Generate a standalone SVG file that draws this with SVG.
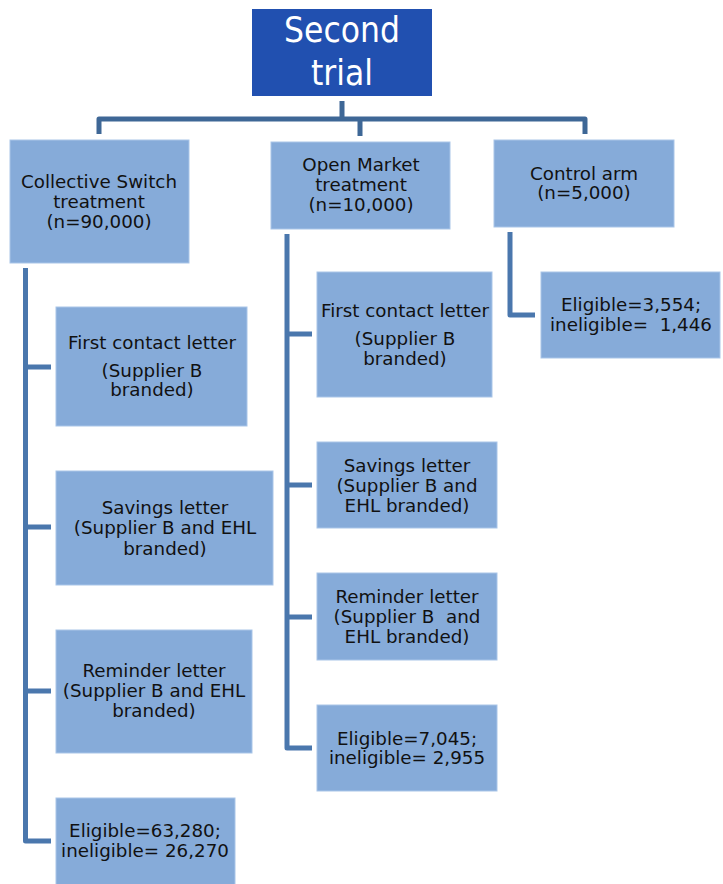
<svg xmlns="http://www.w3.org/2000/svg" width="723" height="884" viewBox="0 0 723 884">
<style>
.box{fill:#86ABD9;stroke:#A9C5E8;stroke-width:1}
.t{font-family:"DejaVu Sans","Verdana",sans-serif;font-size:18.3px;fill:#111;text-anchor:middle;white-space:pre}
.title{font-family:"DejaVu Sans Condensed","DejaVu Sans",sans-serif;font-stretch:condensed;font-size:35px;fill:#fff;text-anchor:middle}
.c{fill:none;stroke:#4A77AD;stroke-width:5;stroke-linejoin:round}
.ct{fill:none;stroke:#3E6796;stroke-width:5;stroke-linejoin:round}
</style>
<rect width="723" height="884" fill="#fff"/>
<g id="connectors">
<path class="ct" d="M342 101V119M99 134V119H585V134M360 136V119"/>
<path class="c" d="M25.5 268V841H51M25.5 367H51M25.5 527H51M25.5 691H51"/>
<path class="c" d="M287 234V748H312M287 334H312M287 485H312M287 617H312"/>
<path class="c" d="M510 232V315H535"/>
</g>
<g id="second-trial">
<rect x="252" y="9" width="180" height="87" fill="#2150B0"/>
<text class="title" x="342" y="42">Second</text>
<text class="title" x="342" y="85">trial</text>
</g>
<g id="collective-switch">
<rect class="box" x="10" y="140" width="179" height="123"/>
<text class="t" x="99" y="188">Collective Switch</text>
<text class="t" x="99" y="208">treatment</text>
<text class="t" x="99" y="228">(n=90,000)</text>
</g>
<g id="open-market">
<rect class="box" x="271" y="142" width="179" height="87"/>
<text class="t" x="361" y="171">Open Market</text>
<text class="t" x="361" y="191">treatment</text>
<text class="t" x="361" y="211">(n=10,000)</text>
</g>
<g id="control-arm">
<rect class="box" x="494" y="140" width="180" height="87"/>
<text class="t" x="584" y="180">Control arm</text>
<text class="t" x="584" y="199">(n=5,000)</text>
</g>
<g id="cs-first-contact">
<rect class="box" x="56" y="307" width="191" height="119"/>
<text class="t" x="152" y="349">First contact letter</text>
<text class="t" x="152" y="377">(Supplier B</text>
<text class="t" x="152" y="396">branded)</text>
</g>
<g id="cs-savings">
<rect class="box" x="56" y="471" width="217" height="114"/>
<text class="t" x="165" y="514">Savings letter</text>
<text class="t" x="165" y="534">(Supplier B and EHL</text>
<text class="t" x="165" y="555">branded)</text>
</g>
<g id="cs-reminder">
<rect class="box" x="56" y="630" width="196" height="123"/>
<text class="t" x="154" y="677">Reminder letter</text>
<text class="t" x="154" y="697">(Supplier B and EHL</text>
<text class="t" x="154" y="717">branded)</text>
</g>
<g id="cs-eligible">
<rect class="box" x="56" y="798" width="179" height="90"/>
<text class="t" x="145" y="837">Eligible=63,280;</text>
<text class="t" x="145" y="857">ineligible= 26,270</text>
</g>
<g id="om-first-contact">
<rect class="box" x="317" y="272" width="175" height="125"/>
<text class="t" x="405" y="317">First contact letter</text>
<text class="t" x="405" y="345">(Supplier B</text>
<text class="t" x="405" y="365">branded)</text>
</g>
<g id="om-savings">
<rect class="box" x="317" y="442" width="180" height="86"/>
<text class="t" x="407" y="472">Savings letter</text>
<text class="t" x="407" y="492">(Supplier B and</text>
<text class="t" x="407" y="512">EHL branded)</text>
</g>
<g id="om-reminder">
<rect class="box" x="317" y="573" width="180" height="87"/>
<text class="t" x="407" y="603">Reminder letter</text>
<text class="t" x="407" y="623">(Supplier B  and</text>
<text class="t" x="407" y="643">EHL branded)</text>
</g>
<g id="om-eligible">
<rect class="box" x="317" y="705" width="180" height="86"/>
<text class="t" x="407" y="745">Eligible=7,045;</text>
<text class="t" x="407" y="764">ineligible= 2,955</text>
</g>
<g id="ca-eligible">
<rect class="box" x="541" y="272" width="179" height="86"/>
<text class="t" x="631" y="311">Eligible=3,554;</text>
<text class="t" x="631" y="331">ineligible=  1,446</text>
</g>
</svg>
